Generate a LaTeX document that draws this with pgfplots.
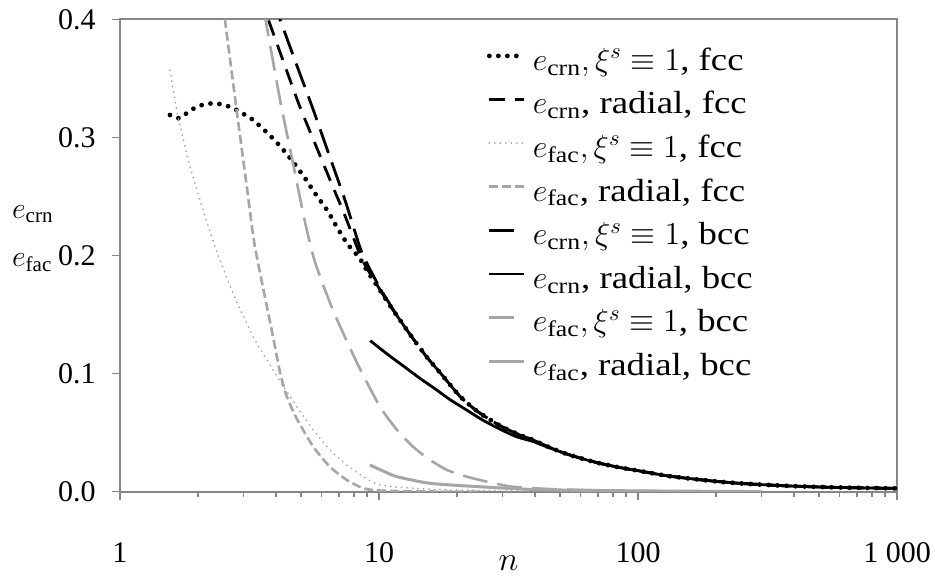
\RequirePackage{fix-cm}
\documentclass[border=0pt]{standalone}
\usepackage{amsmath}
\usepackage{fontspec}
\setmainfont{Liberation Serif}
\newfontfamily\legfont{Liberation Serif}[FakeStretch=1.15]
\usepackage{pgfplots}
\pgfplotsset{compat=1.18}
\definecolor{axgray}{RGB}{134,134,134}
\definecolor{lgray}{RGB}{166,166,166}
\begin{document}
\begin{tikzpicture}
\begin{axis}[
  scale only axis, width=388.5pt, height=236.1pt,
  xmode=log, xmin=1, xmax=1000, ymin=0, ymax=0.4,
  xtick={1,10,100,1000}, xticklabels={1,10,100,1 000},
  minor xtick={2,3,4,5,6,7,8,9,20,30,40,50,60,70,80,90,200,300,400,500,600,700,800,900},
  ytick={0,0.1,0.2,0.3,0.4},
  yticklabel style={/pgf/number format/fixed, /pgf/number format/fixed zerofill, /pgf/number format/precision=1, anchor=east, inner sep=0pt, xshift=-8pt},
  xticklabel style={anchor=base, inner sep=0pt, yshift=-31.6pt},
  /pgf/number format/assume math mode=true,
  tick label style={font=\fontsize{15}{18}\selectfont},
  axis line style={axgray, line width=1pt},
  tick style={axgray, line width=0.8pt},
  major tick length=4pt, minor tick length=2.5pt,
  tick align=outside, tick pos=left,
  xlabel={$n$},
  xlabel style={at={(axis description cs:0.5,0)}, anchor=base, inner sep=0pt, yshift=-39.2pt, font=\fontsize{17}{20}\selectfont},
  legend style={at={(0.4723,0.939)}, anchor=north west, draw=none, fill=none, inner sep=0pt, outer sep=0pt, column sep=3pt, row sep=6.8pt, font=\legfont\fontsize{16}{19}\selectfont, nodes={inner sep=0pt, text height=11pt, text depth=4pt}},
  legend cell align=left,
  legend image code/.code={\draw[#1] (0pt,3.7pt) -- (17.5pt,3.7pt);},
]
% e_crn, xi=1, fcc
\addplot[black, line width=2.4pt, dash pattern=on 0pt off 4.5pt, line cap=round, smooth, tension=0.4] coordinates {
(1.560,0.3191) (1.690,0.3163) (1.819,0.3210) (1.960,0.3256) (2.123,0.3282) (2.312,0.3290) (2.527,0.3276) (2.738,0.3248) (2.967,0.3205) (3.205,0.3163) (3.662,0.3050) (4.148,0.2928) (4.656,0.2795) (5.133,0.2668) (5.661,0.2528) (6.299,0.2386) (6.885,0.2240) (7.522,0.2104) (8.0,0.2035) (8.44,0.1975) (9,0.187) (10,0.172) (11,0.158) (12,0.146) (13.4,0.131) (15.3,0.114) (17.5,0.099) (20.5,0.081) (24,0.068) (29.3,0.056) (35,0.048) (39.4,0.0438) (45,0.038) (53,0.032) (62,0.0275) (71.3,0.024) (85,0.0205) (100,0.0178) (129,0.0135) (160,0.011) (201,0.0087) (250,0.0070) (312,0.0058) (400,0.0047) (565,0.0037) (750,0.0032) (1000,0.0028)};
\addlegendentry{$e_{\text{crn}}, \xi^{s}\equiv 1$, fcc}
% e_crn, radial, fcc
\addplot[black, line width=1.4pt, dash pattern=on 8pt off 5pt, smooth, tension=0.4] coordinates {
(3.47,0.42) (3.738,0.400) (4.3,0.3628) (4.95,0.326) (5.7,0.2934) (6.645,0.258) (7.4,0.2335) (8.44,0.201) (9,0.189) (10,0.1725) (11,0.158) (12,0.146) (13.4,0.131) (15.3,0.114) (17.5,0.099) (20.5,0.081) (24,0.068) (29.3,0.056) (35,0.048) (39.4,0.0438) (45,0.038) (53,0.032) (62,0.0275) (71.3,0.024) (85,0.0205) (100,0.0178) (129,0.0135) (160,0.011) (201,0.0087) (250,0.0070) (312,0.0058) (400,0.0047) (565,0.0037) (750,0.0032) (1000,0.0028)};
\addlegendentry{$e_{\text{crn}}$, radial, fcc}
% e_fac, xi=1, fcc
\addplot[lgray, line width=1pt, dash pattern=on 0pt off 2.75pt, line cap=round, smooth, tension=0.4] coordinates {
(1.560,0.357) (1.656,0.3233) (1.835,0.281) (2.036,0.247) (2.328,0.2075) (2.780,0.1641) (3.320,0.1285) (3.795,0.1075) (4.15,0.0938) (4.402,0.0849) (5.0,0.067) (5.577,0.0523) (6.469,0.0353) (7.505,0.0226) (8.698,0.0127) (10.09,0.0057) (13.53,0.0029) (18.80,0.0014) (35.0,0.0006) (60,0.0003) (100,0.0001)};
\addlegendentry{$e_{\text{fac}}, \xi^{s}\equiv 1$, fcc}
% e_fac, radial, fcc
\addplot[lgray, line width=1.3pt, dash pattern=on 4.5pt off 2pt, smooth, tension=0.4] coordinates {
(2.467,0.4224) (2.543,0.3996) (2.82,0.3233) (3.088,0.2584) (3.32,0.2075) (3.91,0.130) (4.15,0.101) (4.4,0.081) (4.81,0.062) (5.58,0.038) (6.46,0.0212) (7.51,0.0099) (8.7,0.0029) (10,0.001) (14.4,0.0002) (25,0.0)};
\addlegendentry{$e_{\text{fac}}$, radial, fcc}
% e_crn, xi=1, bcc
\addplot[black, line width=1.4pt, dash pattern=on 12.5pt off 5pt, smooth, tension=0.4] coordinates {
(3.86,0.4183) (4.148,0.400) (4.8,0.362) (5.579,0.3233) (6.4,0.286) (7.39,0.2471) (8.44,0.207) (9,0.193) (10,0.174) (11,0.159) (12,0.146) (13.4,0.131) (15.3,0.114) (17.5,0.099) (20.5,0.081) (24,0.068) (29.3,0.056) (35,0.048) (39.4,0.0438) (45,0.038) (53,0.032) (62,0.0275) (71.3,0.024) (85,0.0205) (100,0.0178) (129,0.0135) (160,0.011) (201,0.0087) (250,0.0070) (312,0.0058) (400,0.0047) (565,0.0037) (750,0.0032) (1000,0.0028)};
\addlegendentry{$e_{\text{crn}}, \xi^{s}\equiv 1$, bcc}
% e_crn, radial, bcc
\addplot[black, line width=1.4pt, smooth, tension=0.4] coordinates {
(9.25,0.128) (10,0.122) (11,0.115) (12.5,0.106) (14.4,0.096) (16.5,0.087) (18.8,0.078) (21.5,0.070) (25,0.061) (29.3,0.053) (34,0.0465) (39.4,0.0425) (45,0.0375) (53,0.032) (62,0.0275) (71.3,0.024) (85,0.0205) (100,0.0178) (129,0.0135) (160,0.011) (201,0.0087) (250,0.0070) (312,0.0058) (400,0.0047) (565,0.0037) (750,0.0032) (1000,0.0028)};
\addlegendentry{$e_{\text{crn}}$, radial, bcc}
% e_fac, xi=1, bcc
\addplot[lgray, line width=1.3pt, dash pattern=on 12.5pt off 5pt, smooth, tension=0.4] coordinates {
(3.41,0.436) (3.65,0.3996) (4.15,0.3319) (4.67,0.2768) (5.18,0.2285) (5.66,0.1946) (6.64,0.1539) (8.23,0.1090) (10.09,0.0720) (11.74,0.0523) (13.53,0.0381) (15.74,0.0269) (18.31,0.0184) (21.87,0.0127) (26.12,0.0085) (32.9,0.0042) (50.0,0.0019) (101.8,0.0006) (200,0.0002)};
\addlegendentry{$e_{\text{fac}}, \xi^{s}\equiv 1$, bcc}
% e_fac, radial, bcc
\addplot[lgray, line width=1.5pt, smooth, tension=0.4] coordinates {
(9.22,0.0226) (10.5,0.0170) (11.74,0.0127) (15.74,0.0071) (24.5,0.0042) (38.2,0.0020) (60,0.0012) (100,0.0007) (200,0.0003) (300,0.0001)};
\addlegendentry{$e_{\text{fac}}$, radial, bcc}
\end{axis}
\node[anchor=base west, inner sep=0pt, font=\fontsize{15}{18}\selectfont] at ([xshift=-54.15pt,yshift=136.7pt]current axis.south west) {$e_{\text{crn}}$};
\node[anchor=base west, inner sep=0pt, font=\fontsize{15}{18}\selectfont] at ([xshift=-54.15pt,yshift=112.5pt]current axis.south west) {$e_{\text{fac}}$};
\pgfresetboundingbox
\useasboundingbox ([xshift=-60pt,yshift=-42.15pt]current axis.south west) rectangle ([xshift=19pt,yshift=9.75pt]current axis.north east);
\end{tikzpicture}
\end{document}
